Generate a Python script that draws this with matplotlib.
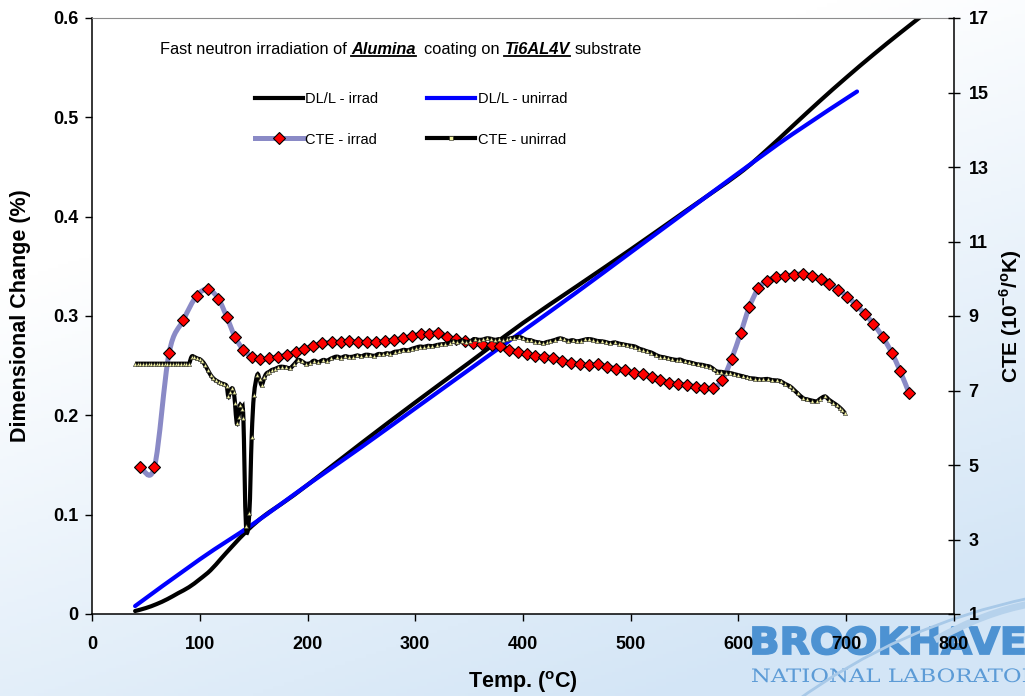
import numpy as np
import matplotlib
matplotlib.use("Agg")
import matplotlib.pyplot as plt
from matplotlib.path import Path
from matplotlib.patches import PathPatch
from matplotlib.lines import Line2D
from matplotlib.textpath import TextPath
from matplotlib.font_manager import FontProperties
from matplotlib.transforms import Affine2D

# ---- data ----
# dimensional change (%), left axis
dl_irrad_t = [40, 50, 60, 70, 80, 90, 100, 110, 120, 130, 145, 160, 180, 200, 250,
              300, 350, 400, 450, 500, 550, 600, 625, 650, 675, 700, 725, 750, 770]
dl_irrad = [0.003, 0.006, 0.010, 0.015, 0.021, 0.027, 0.035, 0.044, 0.056, 0.068, 0.085,
            0.099, 0.114, 0.130, 0.172, 0.213, 0.253, 0.293, 0.330, 0.367, 0.405, 0.443,
            0.466, 0.491, 0.516, 0.540, 0.563, 0.585, 0.602]

dl_unirrad_t = [40, 100, 150, 200, 250, 300, 350, 400, 450, 500, 550, 600, 650, 710]
dl_unirrad = [0.008, 0.055, 0.091, 0.130, 0.168, 0.207, 0.246, 0.285, 0.324, 0.364,
              0.404, 0.444, 0.483, 0.526]

# CTE (1e-6/K), right axis
cte_irrad_t = [45, 58, 71.5, 84.8, 97.1, 107.9, 117.3, 125, 132.7, 140.5, 148.2, 156,
               164.3, 172.6, 180.7, 189, 197, 205.4, 213.8, 222.5, 230.8, 238.8, 247.2,
               255.5, 263.6, 271.9, 280.3, 288.3, 296.7, 305, 313, 321.4, 329.7, 337.8,
               346, 354, 362, 371, 378.7, 387, 395, 403.4, 411.4, 419.5, 428, 436.5,
               444.6, 452.9, 461.3, 469.9, 478.2, 486.3, 494.7, 503, 511, 519.4, 527.1,
               535.5, 543.5, 551.9, 560.3, 568.3, 576.7, 585, 593.6, 602, 610, 618.4,
               626.7, 634.8, 643.2, 651.5, 659.5, 667.9, 676.2, 684.2, 692.6, 701, 709,
               717.4, 725.1, 733.8, 742.1, 749.9, 758.2]
cte_irrad = [4.95, 4.95, 8.0, 8.89, 9.54, 9.72, 9.46, 8.98, 8.44, 8.09, 7.91, 7.84,
             7.86, 7.91, 7.95, 8.04, 8.12, 8.20, 8.27, 8.29, 8.30, 8.32, 8.30,
             8.29, 8.30, 8.32, 8.36, 8.40, 8.46, 8.51, 8.53, 8.55, 8.44, 8.37,
             8.32, 8.28, 8.25, 8.22, 8.19, 8.10, 8.04, 7.97, 7.93, 7.90, 7.88, 7.79,
             7.75, 7.70, 7.68, 7.70, 7.63, 7.59, 7.54, 7.46, 7.44, 7.36, 7.29,
             7.21, 7.17, 7.15, 7.10, 7.07, 7.07, 7.28, 7.85, 8.54, 9.24, 9.74,
             9.95, 10.04, 10.07, 10.11, 10.13, 10.07, 9.99, 9.86, 9.71, 9.52, 9.30,
             9.05, 8.79, 8.44, 8.02, 7.53, 6.94]

cte_unirrad_t = [40, 42.5, 45, 47.5, 50, 52.5, 55, 57.5, 60, 62.5, 65, 67.5, 70, 72.5,
                 75, 77.5, 80, 82.5, 85, 87.5, 90, 92.5, 95, 97.5, 100, 102.5, 105,
                 107.5, 110, 112.5, 115, 117.5, 120, 122.5, 125, 126.5, 128, 130, 131.5,
                 132.7, 134.3, 136, 137.4, 139, 140.5, 142.9, 146, 148.2, 150.3, 153.4,
                 155.5, 157.5, 160, 162, 164.5, 166.8, 170, 173, 176, 180, 183.8, 187.5,
                 191.5, 195, 198.5, 202.3, 206, 210, 214.7, 218, 222, 227, 231, 235,
                 238.5, 242.5, 246, 250, 254, 258, 262, 266, 270, 273.5, 277, 281, 285,
                 289, 293, 297, 300.5, 304.4, 308, 312, 316, 320, 324, 328, 332, 335.3,
                 339, 343, 347, 350.8, 355, 359, 363, 366.3, 370, 374, 378, 381.7, 385,
                 388, 392, 396, 400, 403.4, 407, 411, 415, 418.9, 422, 425, 430, 434.3,
                 438, 442, 446, 449.8, 454, 458, 461.5, 465.3, 469, 473, 477, 480.7, 485,
                 489, 492.5, 496.2, 500, 504, 508, 511.6, 515, 519, 523, 527.1, 531, 535,
                 538.5, 542.6, 546, 550, 554, 558, 562, 566, 570, 573.5, 577, 580, 584,
                 588, 592, 596, 600, 604, 608, 610.7, 615, 619, 623, 627, 631, 635.4,
                 639, 643, 647.8, 651, 655, 660.2, 664, 668, 672.6, 676, 680.3, 684, 688,
                 691.1, 694, 696.5, 698.8]
cte_unirrad = [7.72, 7.72, 7.72, 7.72, 7.72, 7.72, 7.72, 7.72, 7.72, 7.72, 7.72, 7.72,
               7.72, 7.72, 7.72, 7.72, 7.72, 7.72, 7.72, 7.72, 7.72, 7.91, 7.90, 7.86,
               7.84, 7.78, 7.68, 7.55, 7.42, 7.33, 7.27, 7.23, 7.19, 7.17, 7.11, 6.84,
               6.95, 7.06, 6.95, 6.67, 6.12, 6.30, 6.61, 6.50, 6.25, 3.37, 3.70, 5.76,
               6.88, 7.42, 7.30, 7.15, 7.35, 7.46, 7.50, 7.55, 7.58, 7.62, 7.64, 7.62,
               7.60, 7.70, 7.82, 7.78, 7.72, 7.73, 7.80, 7.76, 7.82, 7.80, 7.86, 7.91,
               7.88, 7.92, 7.90, 7.91, 7.94, 7.92, 7.96, 7.95, 7.93, 7.98, 7.97, 8.00,
               7.99, 8.04, 8.05, 8.09, 8.08, 8.12, 8.15, 8.18, 8.17, 8.20, 8.19, 8.22,
               8.24, 8.25, 8.28, 8.32, 8.30, 8.34, 8.31, 8.32, 8.38, 8.36, 8.37, 8.40,
               8.39, 8.36, 8.38, 8.36, 8.38, 8.40, 8.42, 8.44, 8.40, 8.36, 8.35, 8.31,
               8.29, 8.27, 8.30, 8.32, 8.36, 8.40, 8.37, 8.33, 8.35, 8.32, 8.34, 8.37,
               8.38, 8.36, 8.33, 8.32, 8.30, 8.27, 8.29, 8.26, 8.24, 8.22, 8.20, 8.18,
               8.12, 8.09, 8.05, 8.02, 7.96, 7.91, 7.89, 7.86, 7.84, 7.82, 7.83, 7.78,
               7.76, 7.73, 7.70, 7.69, 7.66, 7.64, 7.57, 7.51, 7.50, 7.48, 7.47, 7.44,
               7.41, 7.38, 7.35, 7.33, 7.32, 7.30, 7.30, 7.31, 7.28, 7.27, 7.25, 7.18,
               7.11, 7.03, 6.92, 6.79, 6.76, 6.73, 6.71, 6.78, 6.84, 6.75, 6.67, 6.61,
               6.54, 6.47, 6.39]

x_ticks = [0, 100, 200, 300, 400, 500, 600, 700, 800]
y_ticks = [0, 0.1, 0.2, 0.3, 0.4, 0.5, 0.6]
y_tick_labels = ["0", "0.1", "0.2", "0.3", "0.4", "0.5", "0.6"]
cte_ticks = [1, 3, 5, 7, 9, 11, 13, 15, 17]

C_LAV = "#8a8ac6"
C_BLUE = "#0000ff"
C_LOGO = "#4d92d2"

plt.rcParams["font.family"] = ["Liberation Sans", "DejaVu Sans"]
plt.rcParams["mathtext.fontset"] = "custom"
plt.rcParams["mathtext.rm"] = "Liberation Sans:bold"


def smooth_path(xs, ys):
    # excel-like smoothed line (catmull-rom as cubic bezier)
    p = np.column_stack([xs, ys]).astype(float)
    verts = [p[0]]
    codes = [Path.MOVETO]
    n = len(p)
    for i in range(n - 1):
        p0 = p[i - 1] if i > 0 else p[i]
        p3 = p[i + 2] if i + 2 < n else p[i + 1]
        verts += [p[i] + (p[i + 1] - p0) / 6, p[i + 1] - (p3 - p[i]) / 6, p[i + 1]]
        codes += [Path.CURVE4] * 3
    return Path(verts, codes)


fig = plt.figure(figsize=(10.25, 6.96), dpi=100)

# slide background
bg = fig.add_axes([0, 0, 1, 1], zorder=-10)
xx, yy = np.meshgrid(np.linspace(0, 1, 300), np.linspace(0, 1, 200))
t = np.clip(0.55 * xx + 1.1 * yy - 0.45, 0, 1)
c0 = np.array([1.0, 1.0, 1.0])
c1 = np.array([0.83, 0.90, 0.965])
img = c0[None, None, :] * (1 - t[..., None]) + c1[None, None, :] * t[..., None]
bg.imshow(img, extent=[0, 1, 0, 1], aspect="auto", origin="upper")
bg.axis("off")

ax = fig.add_axes([92 / 1025, 1 - 614 / 696, 862 / 1025, 596 / 696])
ax.set_facecolor("white")
ax2 = ax.twinx()

ax.add_patch(PathPatch(smooth_path(dl_irrad_t, dl_irrad), fill=False, ec="black",
                       lw=3.0, capstyle="round", zorder=2))
ax.add_patch(PathPatch(smooth_path(dl_unirrad_t, dl_unirrad), fill=False, ec=C_BLUE,
                       lw=3.0, capstyle="round", zorder=3))

ax2.add_patch(PathPatch(smooth_path(cte_irrad_t, cte_irrad), fill=False, ec=C_LAV,
                        lw=3.6, zorder=2))
ax2.plot(cte_irrad_t, cte_irrad, ls="none", marker="D", ms=6.3, mfc="red",
         mec="black", mew=0.8, zorder=3)
ax2.add_patch(PathPatch(smooth_path(cte_unirrad_t, cte_unirrad), fill=False,
                        ec="black", lw=3.0, zorder=4))
ax2.plot(cte_unirrad_t, cte_unirrad, ls="none", marker="^", ms=3.0, mfc="#f2f2a0",
         mec="#222222", mew=0.4, zorder=5)

ax.set_xlim(0, 800)
ax.set_ylim(0, 0.6)
ax2.set_ylim(1, 17)
ax.set_xticks(x_ticks)
ax.set_xticklabels([str(v) for v in x_ticks])
ax.set_yticks(y_ticks)
ax.set_yticklabels(y_tick_labels)
ax2.set_yticks(cte_ticks)
ax2.set_yticklabels([str(v) for v in cte_ticks])

for a in (ax, ax2):
    for lbl in a.get_xticklabels() + a.get_yticklabels():
        lbl.set_fontweight("bold")
        lbl.set_fontsize(13)

ax.tick_params(axis="y", direction="out", length=5, width=1, pad=5)
ax.tick_params(axis="x", direction="out", length=5, width=1, pad=11)
ax2.tick_params(axis="y", direction="inout", length=9, width=1, pad=6)

ax.spines["right"].set_visible(False)
ax.spines["top"].set_color("#8c8c8c")
ax.spines["top"].set_linewidth(0.8)
for s in ("left", "bottom"):
    ax.spines[s].set_linewidth(1.1)
ax2.spines["right"].set_linewidth(1.1)
for s in ("left", "bottom", "top"):
    ax2.spines[s].set_visible(False)

ax.set_xlabel("Temp. ($^{\\mathrm{o}}$C)", fontsize=15.5, fontweight="bold")
ax.xaxis.set_label_coords(0.5, -0.092)
ax.set_ylabel("Dimensional Change (%)", fontsize=15.5, fontweight="bold")
ax.yaxis.set_label_coords(-0.071, 0.5)
ax2.set_ylabel("CTE (10$^{\\mathrm{-6}}$/$^{\\mathrm{o}}$K)", fontsize=15, fontweight="bold")
ax2.yaxis.set_label_coords(1.050, 0.5)

# legend
h_dl_i = Line2D([], [], color="black", lw=3)
h_dl_u = Line2D([], [], color=C_BLUE, lw=3)
h_cte_i = Line2D([], [], color=C_LAV, lw=3.6, marker="D", ms=6.3, mfc="red",
                 mec="black", mew=0.8)
h_cte_u = Line2D([], [], color="black", lw=3, marker="s", ms=2.2, mfc="#f2f2a0",
                 mec="#222222", mew=0.4)
ax2.legend([h_dl_i, h_cte_i, h_dl_u, h_cte_u],
           ["DL/L - irrad", "CTE - irrad", "DL/L - unirrad", "CTE - unirrad"],
           ncol=2, frameon=False, fontsize=10.5, handlelength=3.3, handletextpad=0.15,
           columnspacing=3.35, labelspacing=1.82, borderpad=0, borderaxespad=0,
           loc="upper left", bbox_to_anchor=(255 / 1025, 1 - 92 / 696),
           bbox_transform=fig.transFigure)

# title line with bold/italic/underlined words
pieces = [("Fast neutron irradiation of", "normal", "normal", False, 3.3),
          ("Alumina", "bold", "italic", True, 6.0),
          ("coating on", "normal", "normal", False, 3.3),
          ("Ti6AL4V", "bold", "italic", True, 3.3),
          ("substrate", "normal", "normal", False, 0)]
prev = fig.text(160 / 1025, 1 - 57 / 696, pieces[0][0], fontsize=11.8, va="bottom")
title_parts = [(prev, pieces[0][3])]
gap = pieces[0][4]
for txt, wt, st, und, g in pieces[1:]:
    prev = ax.annotate(txt, xy=(1, 0), xycoords=prev, xytext=(gap, 0),
                       textcoords="offset points", va="bottom", ha="left",
                       fontsize=11.8, fontweight=wt, fontstyle=st, annotation_clip=False)
    title_parts.append((prev, und))
    gap = g

# Brookhaven logo (bottom right)
fp_b = FontProperties(family="DejaVu Sans", weight="bold")
tp_full = TextPath((0, 0), "BROOKHAVEN", size=100, prop=fp_b)
ext_part = TextPath((0, 0), "BROOKHAVE", size=100, prop=fp_b).get_extents()
ext_b = TextPath((0, 0), "B", size=100, prop=fp_b).get_extents()
tr = (Affine2D().translate(-ext_part.x0, 0)
      .scale(271 / ext_part.width, 27 / ext_b.height).translate(753, 696 - 654))
fig.add_artist(PathPatch(tp_full, transform=tr, fc=C_LOGO, ec=C_LOGO, lw=1.3,
                         zorder=-1))

fp_s = FontProperties(family="DejaVu Serif")
tp_nl = TextPath((0, 0), "NATIONAL LABORATORY", size=100, prop=fp_s)
ext_n = TextPath((0, 0), "NATIONAL", size=100, prop=fp_s).get_extents()
tr2 = (Affine2D().translate(-ext_n.x0, 0)
       .scale(128 / ext_n.width, 14 / ext_n.height).translate(752, 696 - 682))
fig.add_artist(PathPatch(tp_nl, transform=tr2, fc="#5c9bd6", ec="none", zorder=-1))

swoosh = Path([(795, 696 - 702), (900, 696 - 625), (1030, 696 - 598)],
              [Path.MOVETO, Path.CURVE3, Path.CURVE3])
fig.add_artist(PathPatch(swoosh, transform=Affine2D(), fill=False, ec="#a8c9e8",
                         lw=2.0, zorder=-1))
swoosh2 = Path([(935, 696 - 640), (985, 696 - 612), (1030, 696 - 604)],
               [Path.MOVETO, Path.CURVE3, Path.CURVE3])
fig.add_artist(PathPatch(swoosh2, transform=Affine2D(), fill=False, ec="#b6d2ec",
                         lw=5.0, zorder=-1))

# underlines
fig.canvas.draw()
for txt_obj, und in title_parts:
    if und:
        bb = txt_obj.get_window_extent()
        yl = bb.y0 + 0.1 * bb.height
        fig.add_artist(Line2D([bb.x0, bb.x1], [yl, yl], color="black", lw=1.3,
                              transform=Affine2D()))

fig.savefig("out.png", dpi=100)
